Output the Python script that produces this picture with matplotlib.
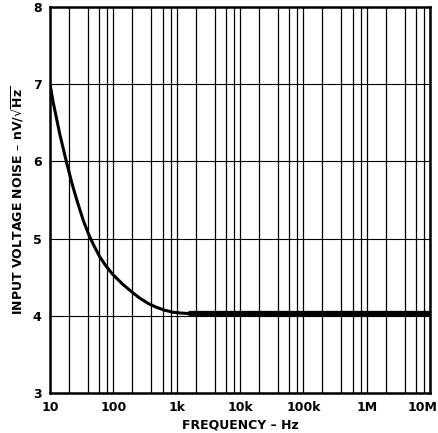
import numpy as np
import matplotlib
matplotlib.use("Agg")
import matplotlib.pyplot as plt
import matplotlib.transforms as mtransforms
from matplotlib.ticker import FixedLocator, NullFormatter

# curve
freq = [10, 11.2, 14.3, 18.1, 22.3, 27.2, 33.7, 42, 50, 61, 75, 97, 140, 195,
        260, 355, 480, 630, 890, 1200, 1500, 1e7]
noise = [7.0, 6.77, 6.35, 6.0, 5.71, 5.47, 5.23, 5.03, 4.90, 4.765, 4.655,
         4.54, 4.41, 4.31, 4.23, 4.16, 4.11, 4.075, 4.045, 4.035, 4.03, 4.03]
flat_freq = [1500, 1e7]
flat_noise = [4.03, 4.03]

xticks = [10, 100, 1e3, 1e4, 1e5, 1e6, 1e7]
xticklabels = ["10", "100", "1k", "10k", "100k", "1M", "10M"]
yticks = [3, 4, 5, 6, 7, 8]

fig = plt.figure(figsize=(4.39, 4.33), dpi=100)
ax = fig.add_axes([50 / 439, 40 / 433, 380 / 439, 386 / 433])
ax.set_xscale("log")
ax.set_xlim(10, 1e7)
ax.set_ylim(3, 8)

minor = [m * 10 ** d for d in range(1, 7) for m in (2, 4, 6, 8)]
ax.xaxis.set_major_locator(FixedLocator(xticks))
ax.xaxis.set_minor_locator(FixedLocator(minor))
ax.xaxis.set_minor_formatter(NullFormatter())
ax.set_xticks(xticks)
ax.set_xticklabels(xticklabels)
ax.set_yticks(yticks)

ax.grid(True, which="both", axis="x", color="black", lw=0.9)
ax.grid(True, which="major", axis="y", color="black", lw=0.8)
ax.tick_params(which="both", length=0, labelsize=9, pad=6)
for lab in ax.get_xticklabels() + ax.get_yticklabels():
    lab.set_fontweight("bold")
# pull the last x label in a bit so it stays on the canvas
last = ax.get_xticklabels()[-1]
last.set_transform(last.get_transform() +
                   mtransforms.ScaledTranslation(-7 / 100, 0, fig.dpi_scale_trans))
for s in ax.spines.values():
    s.set_linewidth(1.8)

ax.plot(freq, noise, color="black", lw=2.2, solid_capstyle="butt")
ax.plot(flat_freq, flat_noise, color="black", lw=3.8, solid_capstyle="butt")

ax.set_xlabel("FREQUENCY \u2013 Hz", fontsize=9, fontweight="bold", labelpad=3)
ax.set_ylabel("INPUT VOLTAGE NOISE \u2013 nV/$\\sqrt{\\mathbf{Hz}}$",
              fontsize=9, fontweight="bold", labelpad=5)

fig.savefig("out.png", dpi=100)
